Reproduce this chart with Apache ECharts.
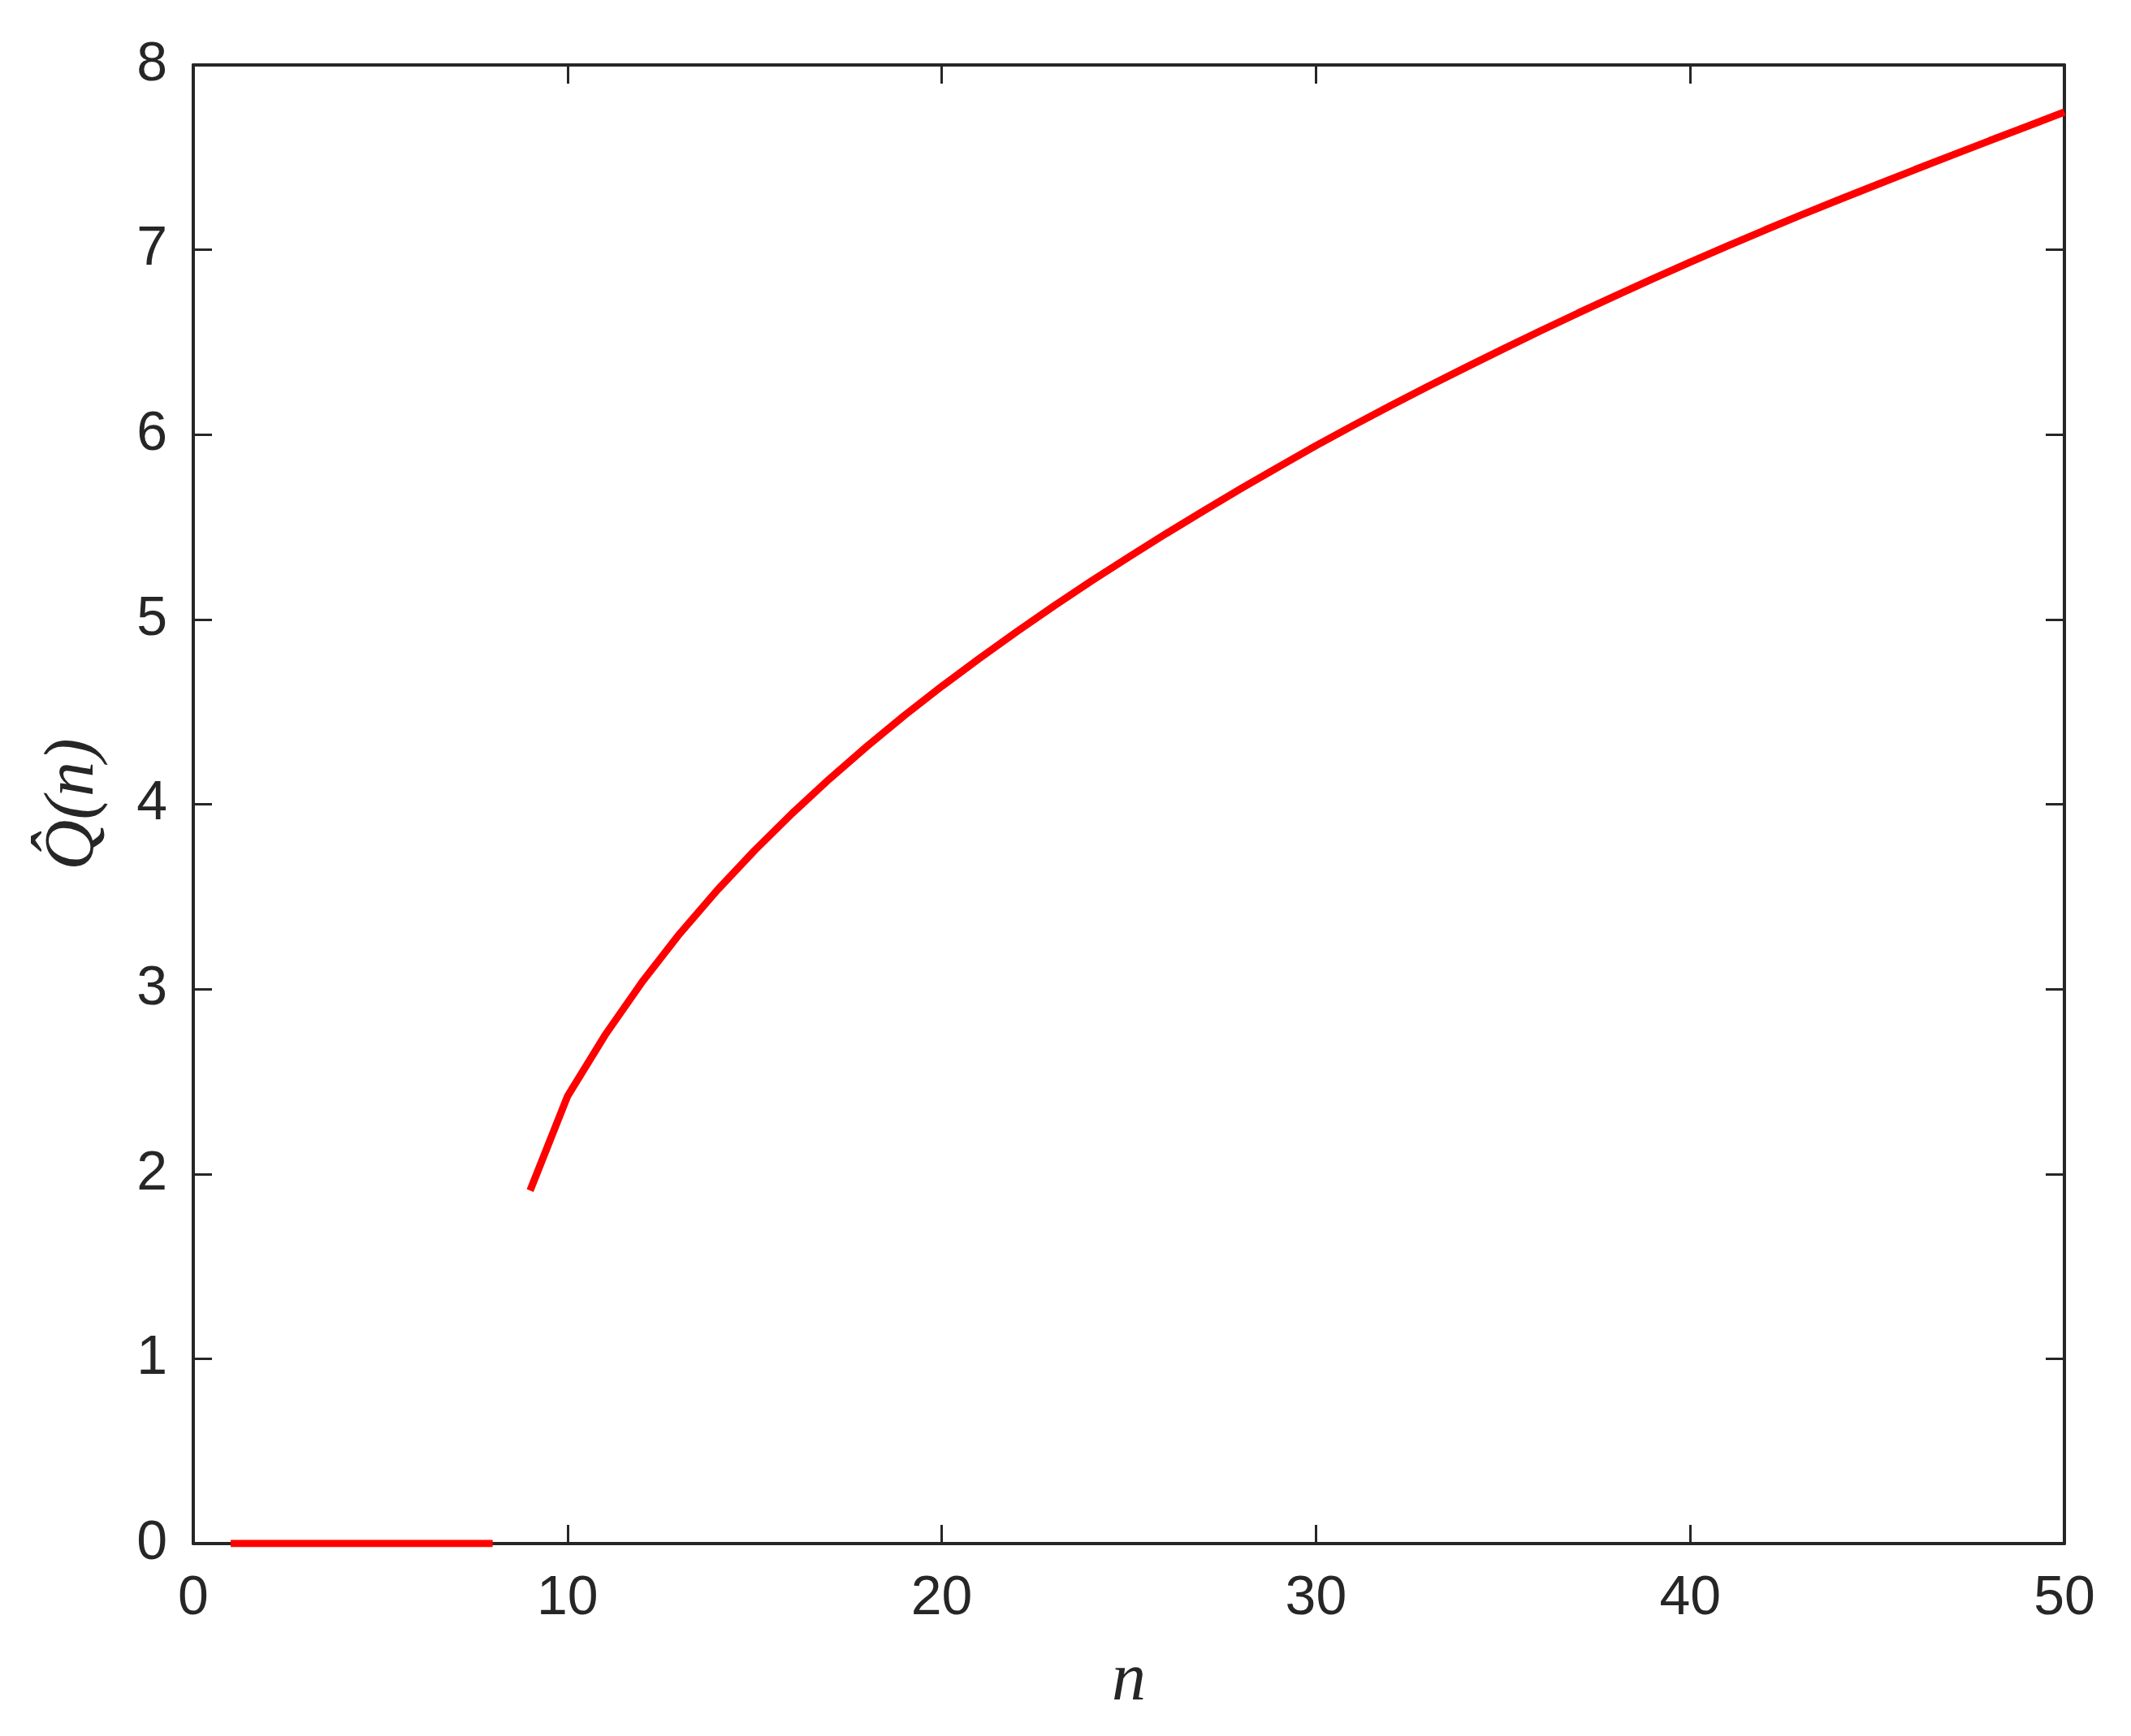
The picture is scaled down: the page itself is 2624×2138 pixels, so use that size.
<!DOCTYPE html>
<html>
<head>
<meta charset="utf-8">
<title>Q(n)</title>
<script src="https://cdn.jsdelivr.net/npm/echarts@6/dist/echarts.min.js"></script>
<style>
    html, body { margin: 0; padding: 0; background: #fff; }
    #q_chart { width: 2624px; height: 2138px; }
</style>
</head>
<body>
<div id="q_chart"></div>
<script>

// Chart data
// ------------------------------

// first branch, Q = 0
var nLow = [1, 2, 3, 4, 5, 6, 7, 8];
var qLow = [0, 0, 0, 0, 0, 0, 0, 0];

// second branch
var nHigh = [9, 10, 11, 12, 13, 14, 15, 16, 17, 18, 19, 20,
             21, 22, 23, 24, 25, 26, 27, 28, 29, 30,
             31, 32, 33, 34, 35, 36, 37, 38, 39, 40,
             41, 42, 43, 44, 45, 46, 47, 48, 49, 50];
var qHigh = [1.910, 2.420, 2.750, 3.040, 3.300, 3.535, 3.750, 3.950, 4.137, 4.313, 4.480, 4.638,
             4.788, 4.933, 5.073, 5.208, 5.338, 5.465, 5.588, 5.708, 5.825, 5.940,
             6.050, 6.157, 6.261, 6.363, 6.463, 6.561, 6.657, 6.751, 6.843, 6.933,
             7.021, 7.107, 7.191, 7.273, 7.353, 7.433, 7.512, 7.590, 7.667, 7.745];

var xTicks = [0, 10, 20, 30, 40, 50];
var yTicks = [0, 1, 2, 3, 4, 5, 6, 7, 8];


// Setup module
// ------------------------------

var QnChart = function() {

    var axisColor = '#262626';

    var pairs = function(xs, ys) {
        return xs.map(function(x, i) { return [x, ys[i]]; });
    };

    var _qnChart = function() {
        if (typeof echarts == 'undefined') {
            console.warn('Warning - echarts.min.js is not loaded.');
            return;
        }

        var q_element = document.getElementById('q_chart');
        if (!q_element) return;

        var q_chart = echarts.init(q_element);

        // shared axis look (MATLAB style box, ticks inside)
        var lineStyle = { color: axisColor, width: 4 };
        var tickStyle = { show: true, inside: true, length: 23, lineStyle: { color: axisColor, width: 3 } };
        var labelStyle = {
            color: axisColor,
            fontFamily: 'Liberation Sans, Arial, sans-serif',
            fontSize: 68
        };

        q_chart.setOption({
            animation: false,
            backgroundColor: '#ffffff',

            grid: {
                left: 238,
                right: 82,
                top: 80,
                bottom: 237,
                containLabel: false
            },

            // Horizontal axis
            xAxis: [
                {
                    type: 'value',
                    position: 'bottom',
                    min: xTicks[0],
                    max: xTicks[xTicks.length - 1],
                    interval: 10,
                    name: 'n',
                    nameLocation: 'middle',
                    nameGap: 128,
                    nameTextStyle: {
                        color: axisColor,
                        fontFamily: 'Liberation Serif, Times New Roman, serif',
                        fontStyle: 'italic',
                        fontSize: 84
                    },
                    axisLine: { show: true, onZero: false, lineStyle: lineStyle },
                    axisTick: tickStyle,
                    axisLabel: Object.assign({ margin: 34 }, labelStyle),
                    splitLine: { show: false }
                },
                {
                    type: 'value',
                    position: 'top',
                    min: xTicks[0],
                    max: xTicks[xTicks.length - 1],
                    interval: 10,
                    axisLine: { show: true, onZero: false, lineStyle: lineStyle },
                    axisTick: tickStyle,
                    axisLabel: { show: false },
                    splitLine: { show: false }
                }
            ],

            // Vertical axis
            yAxis: [
                {
                    type: 'value',
                    position: 'left',
                    min: yTicks[0],
                    max: yTicks[yTicks.length - 1],
                    interval: 1,
                    name: 'Q\u0302(n)',
                    nameLocation: 'middle',
                    nameGap: 104,
                    nameRotate: 90,
                    nameTextStyle: {
                        color: axisColor,
                        fontFamily: 'Liberation Serif, Times New Roman, serif',
                        fontStyle: 'italic',
                        fontSize: 86
                    },
                    axisLine: { show: true, onZero: false, lineStyle: lineStyle },
                    axisTick: tickStyle,
                    axisLabel: Object.assign({ margin: 32 }, labelStyle),
                    splitLine: { show: false }
                },
                {
                    type: 'value',
                    position: 'right',
                    min: yTicks[0],
                    max: yTicks[yTicks.length - 1],
                    interval: 1,
                    axisLine: { show: true, onZero: false, lineStyle: lineStyle },
                    axisTick: tickStyle,
                    axisLabel: { show: false },
                    splitLine: { show: false }
                }
            ],

            // Add series
            series: [
                {
                    name: 'low',
                    type: 'line',
                    showSymbol: false,
                    symbol: 'none',
                    lineStyle: { color: '#ff0000', width: 9, cap: 'butt' },
                    data: pairs(nLow, qLow),
                    z: 3
                },
                {
                    name: 'high',
                    type: 'line',
                    showSymbol: false,
                    symbol: 'none',
                    lineStyle: { color: '#ff0000', width: 9, cap: 'butt' },
                    data: pairs(nHigh, qHigh),
                    z: 3
                }
            ]
        });

        // Resize
        var resizeCharts;
        window.addEventListener('resize', function() {
            clearTimeout(resizeCharts);
            resizeCharts = setTimeout(function () {
                q_chart.resize();
            }, 200);
        });
    };

    return {
        init: function() {
            _qnChart();
        }
    }
}();


// Initialize module
// ------------------------------

QnChart.init();
</script>
</body>
</html>
